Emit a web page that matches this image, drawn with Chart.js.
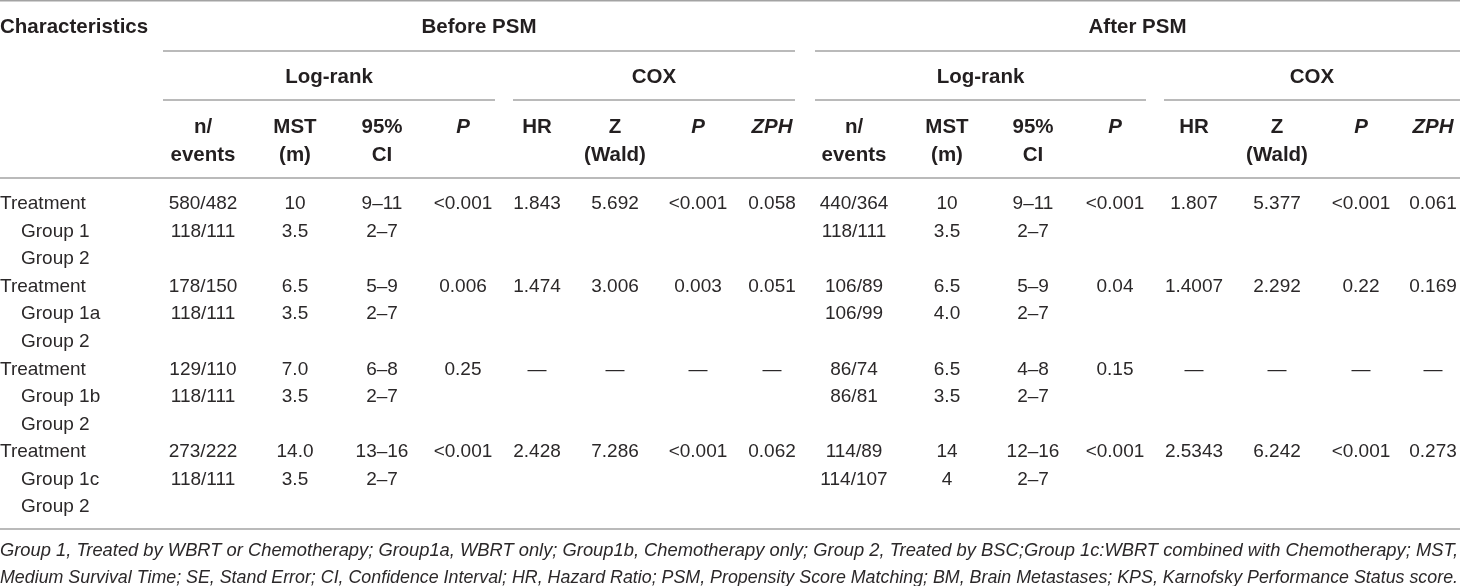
<!DOCTYPE html>
<html>
<head>
<meta charset="utf-8">
<script src="https://cdn.jsdelivr.net/npm/chart.js@4"></script>
<style>
  html, body { margin: 0; padding: 0; background: #fff; }
  #wrap { width: 1460px; height: 586px; position: relative; }
</style>
</head>
<body>
<div id="wrap"><canvas id="psmTable"></canvas></div>
<script>
// table content
var rowLabels = ['Treatment', 'Group 1', 'Group 2', 'Treatment', 'Group 1a', 'Group 2',
                 'Treatment', 'Group 1b', 'Group 2', 'Treatment', 'Group 1c', 'Group 2'];

var nEventsBefore = ['580/482', '118/111', '', '178/150', '118/111', '', '129/110', '118/111', '', '273/222', '118/111', ''];
var mstBefore     = ['10', '3.5', '', '6.5', '3.5', '', '7.0', '3.5', '', '14.0', '3.5', ''];
var ciBefore      = ['9–11', '2–7', '', '5–9', '2–7', '', '6–8', '2–7', '', '13–16', '2–7', ''];
var pLogBefore    = ['<0.001', '', '', '0.006', '', '', '0.25', '', '', '<0.001', '', ''];
var hrBefore      = ['1.843', '', '', '1.474', '', '', '—', '', '', '2.428', '', ''];
var zBefore       = ['5.692', '', '', '3.006', '', '', '—', '', '', '7.286', '', ''];
var pCoxBefore    = ['<0.001', '', '', '0.003', '', '', '—', '', '', '<0.001', '', ''];
var zphBefore     = ['0.058', '', '', '0.051', '', '', '—', '', '', '0.062', '', ''];

var nEventsAfter  = ['440/364', '118/111', '', '106/89', '106/99', '', '86/74', '86/81', '', '114/89', '114/107', ''];
var mstAfter      = ['10', '3.5', '', '6.5', '4.0', '', '6.5', '3.5', '', '14', '4', ''];
var ciAfter       = ['9–11', '2–7', '', '5–9', '2–7', '', '4–8', '2–7', '', '12–16', '2–7', ''];
var pLogAfter     = ['<0.001', '', '', '0.04', '', '', '0.15', '', '', '<0.001', '', ''];
var hrAfter       = ['1.807', '', '', '1.4007', '', '', '—', '', '', '2.5343', '', ''];
var zAfter        = ['5.377', '', '', '2.292', '', '', '—', '', '', '6.242', '', ''];
var pCoxAfter     = ['<0.001', '', '', '0.22', '', '', '—', '', '', '<0.001', '', ''];
var zphAfter      = ['0.061', '', '', '0.169', '', '', '—', '', '', '0.273', '', ''];

var columnHeaders = [['n/', 'events'], ['MST', '(m)'], ['95%', 'CI'], ['P'],
                     ['HR'], ['Z', '(Wald)'], ['P'], ['ZPH'],
                     ['n/', 'events'], ['MST', '(m)'], ['95%', 'CI'], ['P'],
                     ['HR'], ['Z', '(Wald)'], ['P'], ['ZPH']];
var italicHeaders = ['P', 'ZPH'];

var footnote = [
  'Group 1, Treated by WBRT or Chemotherapy; Group1a, WBRT only; Group1b, Chemotherapy only; Group 2, Treated by BSC;Group 1c:WBRT combined with Chemotherapy; MST,',
  'Medium Survival Time; SE, Stand Error; CI, Confidence Interval; HR, Hazard Ratio; PSM, Propensity Score Matching; BM, Brain Metastases; KPS, Karnofsky Performance Status score.'
];

var columns = [nEventsBefore, mstBefore, ciBefore, pLogBefore, hrBefore, zBefore, pCoxBefore, zphBefore,
               nEventsAfter, mstAfter, ciAfter, pLogAfter, hrAfter, zAfter, pCoxAfter, zphAfter];

// layout (pixel units of the 1460x586 page)
var colX = [203, 295, 382, 463, 537, 615, 698, 772, 854, 947, 1033, 1115, 1194, 1277, 1361, 1433];
var firstRowY = 204, rowStep = 27.55;
var groupSpans = [
  { text: 'Before PSM', x0: 163, x1: 795, y: 27, ruleY: 51 },
  { text: 'After PSM',  x0: 815, x1: 1460, y: 27, ruleY: 51 },
  { text: 'Log-rank',   x0: 163, x1: 495, y: 77, ruleY: 100 },
  { text: 'COX',        x0: 513, x1: 795, y: 77, ruleY: 100 },
  { text: 'Log-rank',   x0: 815, x1: 1146, y: 77, ruleY: 100 },
  { text: 'COX',        x0: 1164, x1: 1460, y: 77, ruleY: 100 }
];
var fullRules = [0.75, 178, 529];

var TEXT = '#231f20';
var BODY = '#2b2829';
var RULE = '#a3a3a3';
var FONT = '"Liberation Sans", Arial, Helvetica, sans-serif';

function rowY(i) { return firstRowY + i * rowStep; }

var datasets = [];

// row labels
datasets.push({
  type: 'scatter',
  labels: rowLabels,
  align: 'left',
  data: rowLabels.map(function (l, i) { return { x: l.indexOf('Group') === 0 ? 21 : 0, y: rowY(i) }; }),
  pointRadius: 0
});

// value columns
columns.forEach(function (col, c) {
  datasets.push({
    type: 'scatter',
    labels: col,
    align: 'center',
    data: col.map(function (v, i) { return { x: colX[c], y: rowY(i) }; }),
    pointRadius: 0
  });
});

// horizontal rules
fullRules.forEach(function (y) {
  datasets.push({
    type: 'line', rule: true,
    data: [{ x: 0, y: y }, { x: 1460, y: y }],
    borderColor: RULE, borderWidth: y < 5 ? 1.5 : 1.4, pointRadius: 0, clip: false
  });
});
groupSpans.forEach(function (g) {
  datasets.push({
    type: 'line', rule: true,
    data: [{ x: g.x0, y: g.ruleY }, { x: g.x1, y: g.ruleY }],
    borderColor: RULE, borderWidth: 1.4, pointRadius: 0, clip: false
  });
});

var tableText = {
  id: 'tableText',
  afterDatasetsDraw: function (chart) {
    var ctx = chart.ctx;
    var xs = chart.scales.x, ys = chart.scales.y;
    ctx.save();
    ctx.textBaseline = 'middle';

    // body cells
    ctx.fillStyle = BODY;
    ctx.font = '19px ' + FONT;
    chart.data.datasets.forEach(function (ds, d) {
      if (!ds.labels) return;
      var meta = chart.getDatasetMeta(d);
      ctx.textAlign = ds.align;
      meta.data.forEach(function (pt, i) {
        if (ds.labels[i]) ctx.fillText(ds.labels[i], pt.x, pt.y);
      });
    });

    // headers
    ctx.fillStyle = TEXT;
    ctx.font = 'bold 20.5px ' + FONT;
    ctx.textAlign = 'left';
    ctx.fillText('Characteristics', xs.getPixelForValue(0), ys.getPixelForValue(27));
    ctx.textAlign = 'center';
    groupSpans.forEach(function (g) {
      ctx.fillText(g.text, xs.getPixelForValue((g.x0 + g.x1) / 2), ys.getPixelForValue(g.y));
    });
    columnHeaders.forEach(function (lines, c) {
      lines.forEach(function (t, k) {
        ctx.font = (italicHeaders.indexOf(t) >= 0 ? 'italic bold 20.5px ' : 'bold 20.5px ') + FONT;
        ctx.fillText(t, xs.getPixelForValue(colX[c]), ys.getPixelForValue(127 + k * 28));
      });
    });

    // footnote
    ctx.fillStyle = BODY;
    ctx.font = 'italic 19px ' + FONT;
    ctx.textAlign = 'left';
    footnote.forEach(function (t, k) {
      ctx.fillText(t, xs.getPixelForValue(0), ys.getPixelForValue(551 + k * 27), 1458);
    });
    ctx.restore();
  }
};

var ctx = document.getElementById('psmTable').getContext('2d');
var psmTable = new Chart(ctx, {
  type: 'scatter',
  data: { datasets: datasets },
  options: {
    responsive: true,
    maintainAspectRatio: false,
    animation: false,
    events: [],
    layout: { padding: 0 },
    plugins: { legend: { display: false }, tooltip: { enabled: false } },
    scales: {
      x: { type: 'linear', min: 0, max: 1460, display: false },
      y: { type: 'linear', min: 0, max: 586, reverse: true, display: false }
    }
  },
  plugins: [tableText]
});
</script>
</body>
</html>
